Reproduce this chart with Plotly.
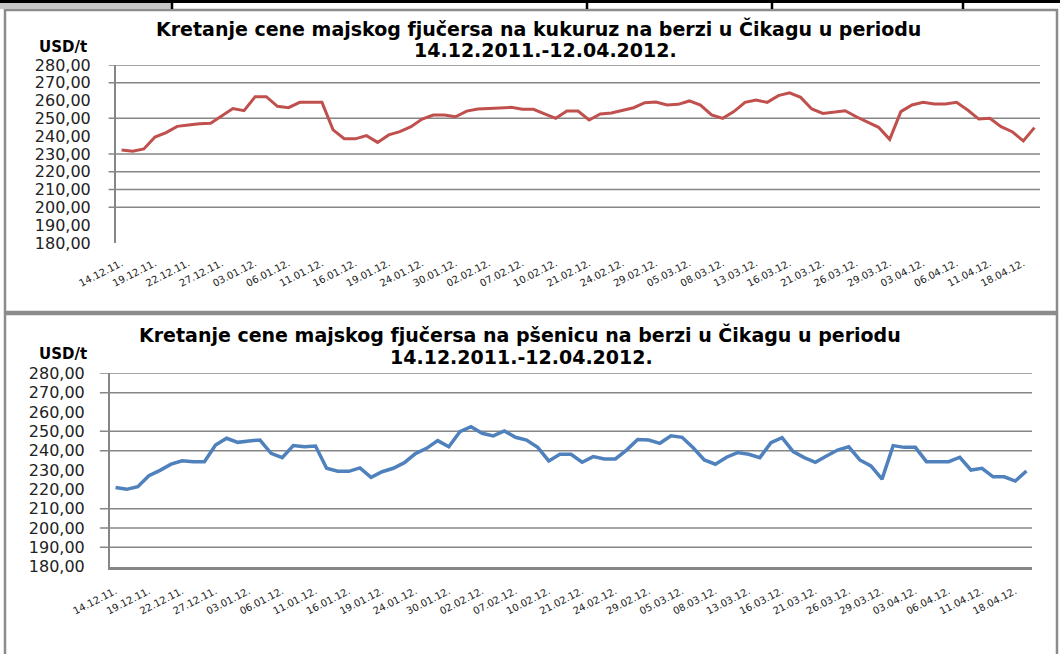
import plotly.graph_objects as go

dates = ["14.12.11.","15.12.11.","16.12.11.","19.12.11.","20.12.11.","21.12.11.","22.12.11.","23.12.11.","26.12.11.","27.12.11.","28.12.11.","29.12.11.",
         "03.01.12.","04.01.12.","05.01.12.","06.01.12.","09.01.12.","10.01.12.","11.01.12.","12.01.12.","13.01.12.","16.01.12.","17.01.12.","18.01.12.","19.01.12.","20.01.12.","23.01.12.","24.01.12.","25.01.12.","27.01.12.","30.01.12.","31.01.12.",
         "01.02.12.","02.02.12.","03.02.12.","06.02.12.","07.02.12.","08.02.12.","09.02.12.","10.02.12.","14.02.12.","17.02.12.","21.02.12.","22.02.12.","23.02.12.","24.02.12.","27.02.12.","28.02.12.","29.02.12.",
         "01.03.12.","02.03.12.","05.03.12.","06.03.12.","07.03.12.","08.03.12.","09.03.12.","12.03.12.","13.03.12.","14.03.12.","15.03.12.","16.03.12.","19.03.12.","20.03.12.","21.03.12.","22.03.12.","23.03.12.","26.03.12.","27.03.12.","28.03.12.","29.03.12.","30.03.12.",
         "02.04.12.","03.04.12.","04.04.12.","05.04.12.","06.04.12.","09.04.12.","10.04.12.","11.04.12.","12.04.12.","16.04.12.","18.04.12.","19.04.12."]

tick_labels = dates[::3]

corn = [232.2,231.5,232.8,239.5,242.0,245.5,246.3,247.0,247.2,251.5,255.5,254.3,
        262.2,262.2,256.8,256.0,259.0,259.0,259.0,243.5,238.6,238.5,240.3,236.5,240.7,242.5,245.3,249.6,251.9,251.9,250.9,254.1,
        255.3,255.6,256.0,256.2,255.1,255.1,252.5,250.0,254.1,254.1,249.1,252.5,253.0,254.5,256.0,258.8,259.2,
        257.5,257.9,259.8,257.5,251.9,250.0,253.8,259.0,260.3,259.0,262.8,264.4,261.8,255.3,252.8,253.4,254.3,250.9,248.1,245.0,238.2,253.8,
        257.5,259.0,258.1,258.1,259.0,254.7,249.6,250.0,245.3,242.5,237.3,244.8]

wheat = [220.9,220.0,221.4,227.0,229.8,233.0,234.8,234.3,234.3,242.9,246.4,244.3,
         245.0,245.5,238.6,236.4,242.6,242.0,242.4,230.9,229.4,229.3,231.1,226.2,229.1,230.9,233.8,238.5,241.2,245.2,242.0,249.8,
         252.4,249.0,247.6,250.2,246.9,245.5,241.7,234.7,238.1,238.1,234.0,236.9,235.7,235.7,240.3,245.8,245.5,
         243.8,247.7,246.9,241.5,235.2,233.0,236.6,239.0,238.1,236.4,244.1,246.7,239.5,236.4,234.0,237.2,240.3,242.0,235.2,232.1,225.3,242.6,
         241.7,241.7,234.3,234.3,234.3,236.6,230.0,230.9,226.5,226.5,224.3,229.5]

y_ticks = [180, 190, 200, 210, 220, 230, 240, 250, 260, 270, 280]
corn_grid = [200, 210, 220, 230, 250, 270, 280]
wheat_grid = [190, 200, 210, 240, 250, 270, 280]

title_corn = "Kretanje cene majskog fjučersa na kukuruz na berzi u Čikagu u periodu"
title_wheat = "Kretanje cene majskog fjučersa na pšenicu na berzi u Čikagu u periodu"
period = "14.12.2011.-12.04.2012."
unit = "USD/t"

W, H = 1060, 654
def px(x): return x / W
def py(y): return 1 - y / H

GRID = "#868686"
fig = go.Figure()
fig.add_trace(go.Scatter(x=dates, y=corn, mode="lines", line=dict(color="#C0504D", width=3),
                         xaxis="x", yaxis="y", showlegend=False))
fig.add_trace(go.Scatter(x=dates, y=wheat, mode="lines", line=dict(color="#4F81BD", width=3.5),
                         xaxis="x2", yaxis="y2", showlegend=False))

tickfont_y = dict(family="DejaVu Sans", size=16, color="#222222")
tickfont_x = dict(family="DejaVu Sans", size=10, color="#222222")

common_x = dict(type="category", categoryorder="array", categoryarray=dates, range=[-0.5, len(dates) - 0.5],
                tickmode="array", tickvals=tick_labels, ticktext=tick_labels, tickangle=-27,
                tickfont=tickfont_x, showgrid=False, zeroline=False, ticks="", ticklabelstandoff=12,
                automargin=False)
common_y = dict(range=[180, 280], tickmode="array", tickvals=y_ticks, tickformat=".2f",
                tickfont=tickfont_y, showgrid=False, zeroline=False, ticks="",
                showline=True, linecolor=GRID, linewidth=2, ticklabelstandoff=20, automargin=False)

fig.update_layout(
    width=W, height=H, margin=dict(l=0, r=0, t=0, b=0, pad=0, autoexpand=False),
    paper_bgcolor="white", plot_bgcolor="white", separators=", ",
    xaxis=dict(domain=[px(116), px(1040)], anchor="y", showline=False, **common_x),
    yaxis=dict(domain=[py(242.9), py(65)], anchor="x", **common_y),
    xaxis2=dict(domain=[px(110), px(1032)], anchor="y2", showline=True, linecolor=GRID, linewidth=3, **common_x),
    yaxis2=dict(domain=[py(566.7), py(373.3)], anchor="x2", **common_y),
)

shapes = []
for g in corn_grid:
    shapes.append(dict(type="line", xref="x domain", yref="y", x0=-0.008, x1=1, y0=g, y1=g,
                       line=dict(color=GRID, width=1.5), layer="below"))
for g in wheat_grid:
    shapes.append(dict(type="line", xref="x2 domain", yref="y2", x0=-0.011, x1=1, y0=g, y1=g,
                       line=dict(color=GRID, width=1.5), layer="below"))
# chart frames
shapes.append(dict(type="rect", xref="paper", yref="paper", x0=px(5), x1=px(1057), y0=py(312), y1=py(10),
                   line=dict(color="#8c8c8c", width=2.5)))
shapes.append(dict(type="rect", xref="paper", yref="paper", x0=px(5), x1=px(1057), y0=py(660), y1=py(314),
                   line=dict(color="#8c8c8c", width=2.5)))
# top table remnants
shapes.append(dict(type="rect", xref="paper", yref="paper", x0=px(0), x1=px(172), y0=py(9), y1=py(3),
                   fillcolor="#c8c8c8", line=dict(width=0)))
shapes.append(dict(type="rect", xref="paper", yref="paper", x0=0, x1=1, y0=py(3), y1=1,
                   fillcolor="black", line=dict(width=0)))
for vx in [172, 587, 772, 963]:
    shapes.append(dict(type="line", xref="paper", yref="paper", x0=px(vx), x1=px(vx), y0=py(9), y1=1,
                       line=dict(color="black", width=2.5)))
fig.update_layout(shapes=shapes)

tfont = dict(family="DejaVu Sans", size=19, color="black", weight="bold")
ufont = dict(family="DejaVu Sans", size=15, color="black", weight="bold")
ann = [
    dict(text=title_corn, x=px(538), y=py(29), font=tfont),
    dict(text=period, x=px(545), y=py(50), font=tfont),
    dict(text=unit, x=px(63), y=py(47), font=ufont),
    dict(text=title_wheat, x=px(520), y=py(334), font=tfont),
    dict(text=period, x=px(521), y=py(357), font=tfont),
    dict(text=unit, x=px(63), y=py(354), font=ufont),
]
for a in ann:
    a.update(xref="paper", yref="paper", showarrow=False, xanchor="center", yanchor="middle")
fig.update_layout(annotations=ann)

fig.write_html("out.html", config={"displayModeBar": False},
               post_script="document.body.style.margin='0px';document.body.style.padding='0px';")
